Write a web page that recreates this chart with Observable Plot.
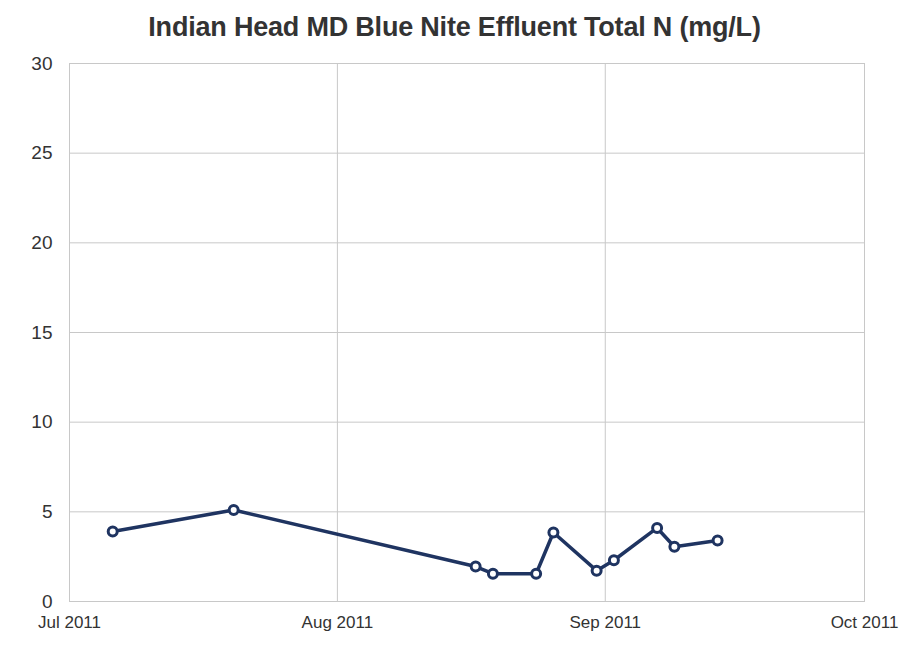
<!DOCTYPE html>
<html>
<head>
<meta charset="utf-8">
<script src="https://cdn.jsdelivr.net/npm/d3@7"></script>
<script src="https://cdn.jsdelivr.net/npm/@observablehq/plot@0.6"></script>
<style>
  body { margin: 0; background: #fff; font-family: "Liberation Sans", Arial, sans-serif; }
  #title { height: 45px; line-height: 54px; text-align: center; font-weight: bold; font-size: 27px; color: #333; letter-spacing: -0.2px; }
  svg { overflow: visible; }
</style>
</head>
<body>
<div id="title">Indian Head MD Blue Nite Effluent Total N (mg/L)</div>
<div id="chart"></div>
<script>
const dates = ["2011-07-06","2011-07-20","2011-08-17","2011-08-19","2011-08-24","2011-08-26","2011-08-31","2011-09-02","2011-09-07","2011-09-09","2011-09-14"];
const values = [3.9, 5.1, 1.95, 1.55, 1.55, 3.85, 1.72, 2.3, 4.1, 3.05, 3.4];
const yTicks = [0, 5, 10, 15, 20, 25, 30];
const xTickDates = ["2011-07-01","2011-08-01","2011-09-01","2011-10-01"];
const xTickLabels = ["Jul 2011","Aug 2011","Sep 2011","Oct 2011"];

const data = dates.map((d, i) => ({date: new Date(d + "T00:00:00Z"), value: values[i]}));
const xt = xTickDates.map(d => new Date(d + "T00:00:00Z"));
const lineColor = "#1f3461";

const chart = Plot.plot({
  width: 909,
  height: 616,
  marginTop: 18,
  marginBottom: 60,
  marginLeft: 69,
  marginRight: 45,
  style: {fontFamily: "Liberation Sans, Arial, sans-serif", fontSize: "17px", color: "#333", background: "#fff"},
  x: {type: "utc", domain: [xt[0], xt[xt.length - 1]], label: null},
  y: {domain: [0, 30], label: null},
  marks: [
    Plot.gridX(xt, {stroke: "#c8c8c8", strokeOpacity: 1, strokeWidth: 1}),
    Plot.gridY(yTicks, {stroke: "#c8c8c8", strokeOpacity: 1, strokeWidth: 1}),
    Plot.frame({stroke: "#c8c8c8"}),
    Plot.axisX({ticks: xt, tickFormat: (d, i) => xTickLabels[i], tickSize: 0, tickPadding: 14, fontSize: 17, fill: "#333"}),
    Plot.axisY({ticks: yTicks, tickSize: 0, tickPadding: 17, fontSize: 19, fill: "#333"}),
    Plot.line(data, {x: "date", y: "value", stroke: lineColor, strokeWidth: 3.5}),
    Plot.dot(data, {x: "date", y: "value", r: 4.5, fill: "#fff", stroke: lineColor, strokeWidth: 3})
  ]
});
document.getElementById("chart").appendChild(chart);
</script>
</body>
</html>
